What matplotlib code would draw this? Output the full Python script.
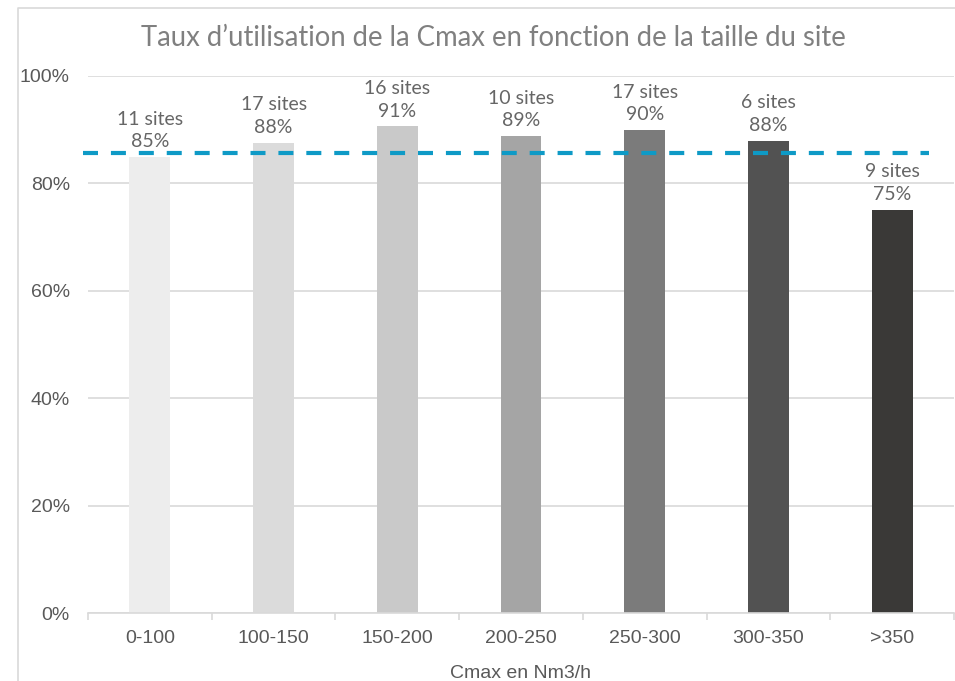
import matplotlib
matplotlib.use("Agg")
import matplotlib.pyplot as plt
from matplotlib.lines import Line2D
from matplotlib.ticker import FuncFormatter

# donnees
categories = ['0-100', '100-150', '150-200', '200-250', '250-300', '300-350', '>350']
taux = [84.9, 87.6, 90.6, 88.8, 89.9, 87.9, 75.1]
etiquettes = ['85%', '88%', '91%', '89%', '90%', '88%', '75%']
nb_sites = [11, 17, 16, 10, 17, 6, 9]
moyenne = 85.7
couleurs = ['#EDEDED', '#DBDBDB', '#C9C9C9', '#A5A5A5', '#7B7B7B', '#525252', '#3A3937']

W, H = 955, 681
fig = plt.figure(figsize=(W / 100, H / 100), dpi=100)
# cadre du graphique (bord gauche et haut)
fig.lines.append(Line2D([17.5 / W, 17.5 / W, 1.0], [0, 1 - 7.5 / H, 1 - 7.5 / H],
                        transform=fig.transFigure, color='#D9D9D9', lw=1.2))

ax = fig.add_axes([88 / W, 1 - 613 / H, 866 / W, (613 - 76) / H])
x = list(range(len(categories)))
ax.bar(x, taux, width=0.33, color=couleurs, zorder=2)
ax.set_xlim(-0.5, len(categories) - 0.5)
ax.set_ylim(0, 100)

ax.plot([-0.54, 6.3], [moyenne, moyenne], color='#0E9AC6', lw=3,
        dashes=(3.6, 3.1), zorder=3, clip_on=False, solid_capstyle='butt')

for xi, v, lab, n in zip(x, taux, etiquettes, nb_sites):
    ax.annotate(f'{n} sites\n{lab}', (xi, v), xytext=(0, 5), textcoords='offset points',
                ha='center', va='bottom', fontsize=14, color='#666666',
                family='Lato', linespacing=1.4)

ax.set_yticks(range(0, 101, 20))
ax.yaxis.set_major_formatter(FuncFormatter(lambda v, p: f'{v:.0f}%'))
ax.grid(axis='y', color='#D9D9D9', lw=1.2, zorder=0)
ax.set_axisbelow(True)
for s in ['top', 'right', 'left']:
    ax.spines[s].set_visible(False)
ax.spines['bottom'].set_color('#D9D9D9')
ax.spines['bottom'].set_linewidth(1.2)

ax.set_xticks([i - 0.5 for i in range(len(categories) + 1)])
ax.set_xticklabels([])
ax.set_xticks(x, minor=True)
ax.set_xticklabels(categories, minor=True)
ax.tick_params(axis='x', which='major', length=5, color='#D9D9D9', width=1.2)
ax.tick_params(axis='x', which='minor', length=0, pad=12, labelsize=14, labelcolor='#595959')
ax.tick_params(axis='y', length=0, pad=13, labelsize=14, labelcolor='#595959')
for t in ax.get_xticklabels(minor=True) + ax.get_yticklabels():
    t.set_family('Liberation Sans')

ax.set_xlabel('Cmax en Nm3/h', fontsize=14, color='#595959', family='Liberation Sans', labelpad=13)
fig.text(493 / W, 1 - 38 / H, 'Taux d\u2019utilisation de la Cmax en fonction de la taille du site',
         ha='center', va='center', fontsize=19.8, color='#808080', family='Lato')

fig.savefig('out.png', dpi=100, facecolor='white')
